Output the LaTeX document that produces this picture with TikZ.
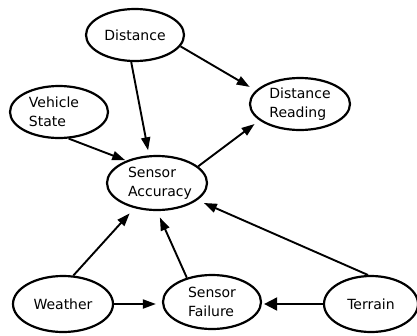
\documentclass[tikz,border=0pt]{standalone}
\usepackage{fontspec}
\setmainfont{DejaVu Sans}
\usetikzlibrary{arrows.meta,shapes.geometric}
\begin{document}
\begin{tikzpicture}[x=1pt,y=-1pt,
  var/.style={ellipse,draw=black,line width=2.2pt,inner sep=0pt,align=left,
    font=\fontsize{14}{19}\selectfont},
  link/.style={line width=1.9pt,-{Triangle[length=13pt,width=9pt]}},
  biglink/.style={line width=1.9pt,-{Triangle[length=13pt,width=13pt]}}]
\useasboundingbox (0,0) rectangle (417,335);
% variables
\node[var,minimum width=98pt,minimum height=52pt] (dist) at (135,35) {Distance};
\node[var,minimum width=98pt,minimum height=52pt] (veh) at (59,112) {Vehicle\hspace*{10pt}\\State};
\node[var,minimum width=100pt,minimum height=52pt] (dr) at (300,104) {Distance\\Reading};
\node[var,minimum width=100pt,minimum height=54pt] (sa) at (157,183) {\hspace*{6pt}Sensor\\\hspace*{6pt}Accuracy};
\node[var,minimum width=100pt,minimum height=56pt] (wea) at (63,304) {Weather};
\node[var,minimum width=98pt,minimum height=54pt] (sf) at (212,302) {Sensor\\Failure};
\node[var,minimum width=94pt,minimum height=56pt] (ter) at (371,304) {Terrain};
% dependencies
\draw[link,shorten >=5pt] (dist.-98) -- (sa.106);
\draw[link,shorten >=7pt] (dist.-14) -- (dr.163);
\draw[link,shorten >=1pt] (veh.-70) -- (sa.144);
\draw[link,shorten >=6pt] (sa.22) -- (dr.-158);
\draw[link,shorten >=7pt] (wea.70) -- (sa.228);
\draw[link,shorten >=7pt] (sf.136) -- (sa.-90);
\draw[link,shorten >=7pt] (ter.96) -- (sa.-23);
\draw[link,shorten >=6pt] (wea.east) -- (sf.west |- wea.east);
\draw[biglink,shorten >=2pt] (ter.west) -- (sf.east |- ter.west);
\end{tikzpicture}
\end{document}
